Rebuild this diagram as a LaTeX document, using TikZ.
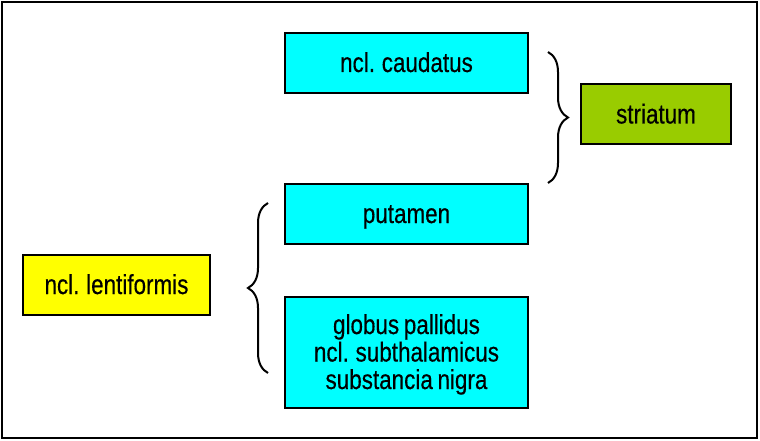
\documentclass[tikz,border=0pt]{standalone}
\usepackage{fontspec}
\usepackage{graphicx}
\setmainfont{Liberation Sans}[WordSpace=0.75, FakeBold=0.4]
\usetikzlibrary{decorations.pathreplacing}
\definecolor{cyanbox}{HTML}{00FFFF}
\definecolor{greenbox}{HTML}{99CC00}
\definecolor{yellowbox}{HTML}{FFFF00}
\newcommand\tall[1]{\scalebox{1.02}[1.25]{#1}}
\tikzset{
	part/.style={draw=black, line width=2pt, fill=cyanbox, minimum width=243pt, minimum height=60pt, align=center, inner sep=0pt, text height=24pt, text depth=6pt},
	group/.style={part, minimum width=150pt},
	curly/.style={draw=black, line width=2pt, decorate, decoration={brace, amplitude=20pt, aspect=0.5}}
}

\begin{document}
\begin{tikzpicture}[x=1pt, y=-1pt, font=\fontsize{22}{27.5}\selectfont]
		%%%%% START %%%%%
		
		\useasboundingbox (0, 0) rectangle (760, 441);
		\draw[line width=2pt] (2, 2) rectangle (757, 438);
		
		\node[part] (caudatus) at (406.5, 63) {\tall{ncl. caudatus}};
		\node[part] (putamen) at (406.5, 214) {\tall{putamen}};
		\node[part, minimum height=111pt, text height=79pt, text depth=6pt] (pallidus) at (406.5, 352.5) {\tall{globus pallidus}\\\tall{ncl. subthalamicus}\\\tall{substancia nigra}};
		
		\node[group, fill=greenbox] (striatum) at (656, 114.5) {\tall{striatum}};
		\node[group, fill=yellowbox, minimum width=187pt] (lentiformis) at (116.5, 285) {\tall{ncl. lentiformis}};
		
		\draw[curly] (548, 52) -- (548, 183);
		\draw[curly] (268, 373) -- (268, 203);
		
		%%%%% END %%%%%
	\end{tikzpicture}
\end{document}
